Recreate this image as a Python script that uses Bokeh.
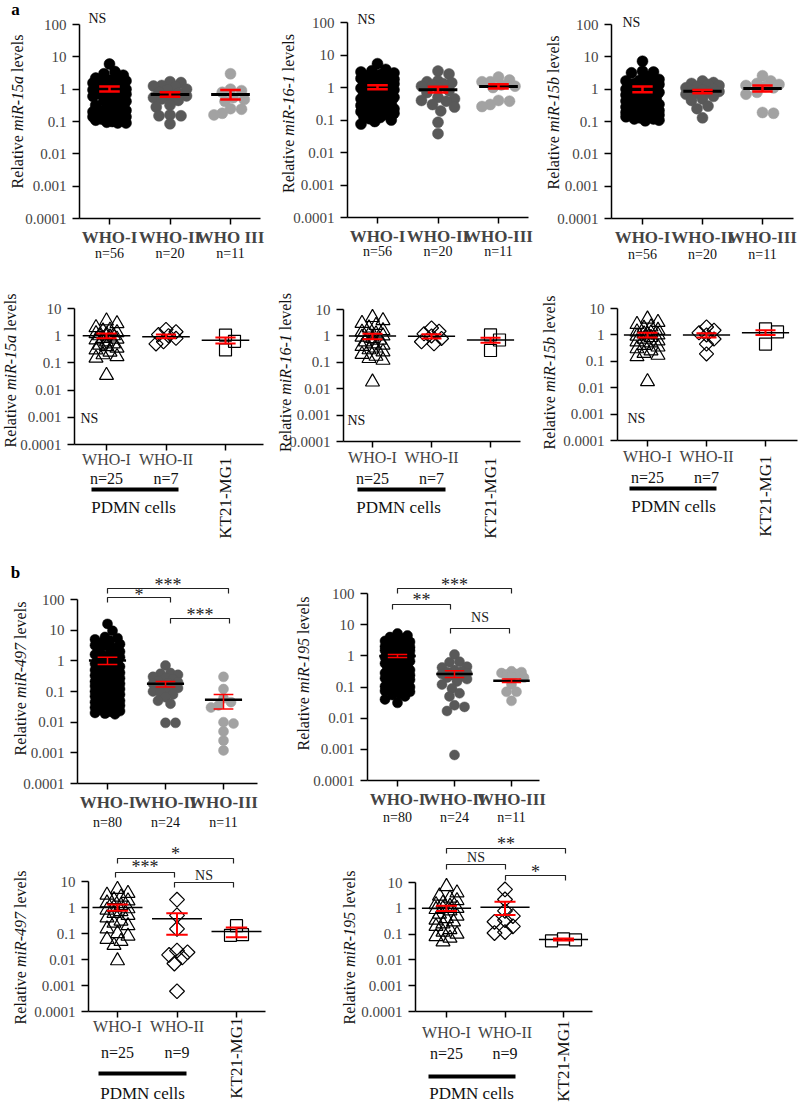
import math
from bokeh.plotting import figure
from bokeh.models import Range1d, FixedTicker, Label
from bokeh.layouts import row, column
from bokeh.embed import file_html
from bokeh.resources import INLINE

FONT = "Liberation Serif"

# ---------------- categories / tick labels ----------------
tissue_cats = ["WHO-I", "WHO-II", "WHO-III"]
tissue_cats_a1 = ["WHO-I", "WHO-II", "WHO III"]
cell_cats = ["WHO-I", "WHO-II", ""]
cell_line_name = "KT21-MG1"
cell_bar_name = "PDMN cells"
n_tissue_a = ["n=56", "n=20", "n=11"]
n_tissue_b = ["n=80", "n=24", "n=11"]
n_cells_a = ["n=25", "n=7", ""]
n_cells_b = ["n=25", "n=9", ""]
y_ticks = [0.0001, 0.001, 0.01, 0.1, 1, 10, 100]
y_tick_labels = ["0.0001", "0.001", "0.01", "0.1", "1", "10", "100"]

# ---------------- a: tissue ----------------
t15a_who1 = [6.0, 3.5, 3.0, 2.7, 2.2, 2.0, 2.0, 1.9, 1.8, 1.6, 1.55, 1.5, 1.45, 1.4, 1.3, 1.25, 1.2, 1.1, 1.05,
             1.0, 1.0, 0.95, 0.9, 0.8, 0.75, 0.72, 0.7, 0.65, 0.6, 0.5, 0.45, 0.42, 0.4, 0.32, 0.3, 0.28, 0.26,
             0.22, 0.21, 0.2, 0.19, 0.18, 0.17, 0.15, 0.15, 0.14, 0.14, 0.13, 0.13, 0.12, 0.12, 0.11, 0.1, 0.095,
             0.09, 0.09]
t15a_who2 = [1.7, 1.6, 1.3, 1.25, 1.2, 1.0, 0.95, 0.8, 0.75, 0.62, 0.6, 0.55, 0.5, 0.45, 0.32, 0.28, 0.16, 0.15,
             0.15, 0.085]
t15a_who3 = [3.0, 1.0, 0.9, 0.8, 0.55, 0.48, 0.42, 0.25, 0.24, 0.18, 0.16]
t15a_mean = [1.0, 0.68, 0.68]
t15a_hi = [1.2, 0.8, 0.95]
t15a_lo = [0.85, 0.58, 0.48]

t161_who1 = [5.4, 3.6, 3.3, 3.0, 2.8, 2.5, 2.3, 2.1, 2.0, 1.9, 1.8, 1.7, 1.6, 1.5, 1.4, 1.35, 1.3, 1.2, 1.15, 1.1,
             1.0, 0.95, 0.9, 0.85, 0.8, 0.75, 0.7, 0.65, 0.6, 0.55, 0.5, 0.48, 0.45, 0.42, 0.4, 0.37, 0.34, 0.31,
             0.28, 0.26, 0.24, 0.22, 0.2, 0.19, 0.18, 0.18, 0.17, 0.16, 0.15, 0.14, 0.13, 0.12, 0.11, 0.1, 0.09,
             0.075]
t161_who2 = [3.2, 2.6, 1.6, 1.5, 1.4, 1.3, 1.2, 1.1, 1.0, 0.8, 0.7, 0.5, 0.45, 0.4, 0.38, 0.3, 0.25, 0.19, 0.085,
             0.038]
t161_who3 = [2.1, 1.7, 1.5, 1.5, 1.2, 1.1, 1.0, 0.4, 0.38, 0.3, 0.26]
t161_mean = [1.02, 0.86, 1.08]
t161_hi = [1.18, 1.05, 1.25]
t161_lo = [0.88, 0.7, 0.93]

t15b_who1 = [7.3, 3.6, 3.4, 3.2, 2.4, 2.0, 1.9, 1.8, 1.7, 1.6, 1.5, 1.4, 1.35, 1.3, 1.2, 1.15, 1.1, 1.05, 1.0,
             0.95, 0.9, 0.85, 0.8, 0.75, 0.7, 0.66, 0.62, 0.58, 0.54, 0.5, 0.46, 0.43, 0.4, 0.37, 0.34, 0.32, 0.3,
             0.28, 0.26, 0.24, 0.22, 0.21, 0.2, 0.19, 0.18, 0.17, 0.17, 0.16, 0.16, 0.15, 0.14, 0.13, 0.12, 0.12,
             0.11, 0.105]
t15b_who2 = [1.8, 1.6, 1.5, 1.4, 1.3, 1.2, 1.1, 1.0, 0.95, 0.9, 0.85, 0.8, 0.75, 0.7, 0.6, 0.5, 0.45, 0.3, 0.25,
             0.13]
t15b_who3 = [2.6, 1.8, 1.5, 1.4, 1.3, 1.2, 1.1, 0.8, 0.7, 0.19, 0.18]
t15b_mean = [0.98, 0.86, 1.05]
t15b_hi = [1.2, 0.95, 1.3]
t15b_lo = [0.8, 0.75, 0.85]

# ---------------- a: cells ----------------
c15a_who1 = [3.5, 2.8, 2.0, 1.6, 1.5, 1.3, 1.2, 1.1, 1.0, 1.0, 0.9, 0.8, 0.75, 0.7, 0.6, 0.5, 0.45, 0.4, 0.35,
             0.3, 0.25, 0.2, 0.17, 0.15, 0.035]
c15a_who2 = [1.7, 1.4, 1.1, 1.0, 0.8, 0.6, 0.5]
c15a_kt21 = [1.05, 0.62, 0.3]
c15a_mean = [1.0, 0.92, 0.68]
c15a_hi = [1.2, 1.1, 0.85]
c15a_lo = [0.8, 0.8, 0.52]

c161_who1 = [5.0, 3.8, 3.0, 2.5, 2.0, 1.6, 1.4, 1.2, 1.1, 1.0, 0.9, 0.8, 0.7, 0.6, 0.5, 0.45, 0.4, 0.35, 0.3,
             0.25, 0.2, 0.17, 0.14, 0.12, 0.018]
c161_who2 = [2.0, 1.5, 1.2, 1.0, 0.8, 0.6, 0.5]
c161_kt21 = [1.1, 0.7, 0.28]
c161_mean = [1.0, 0.97, 0.7]
c161_hi = [1.2, 1.15, 0.85]
c161_lo = [0.75, 0.8, 0.55]

c15b_who1 = [4.0, 3.0, 2.5, 2.0, 1.8, 1.5, 1.3, 1.2, 1.1, 1.0, 1.0, 0.9, 0.8, 0.7, 0.6, 0.55, 0.5, 0.4, 0.35,
             0.3, 0.25, 0.2, 0.17, 0.15, 0.017]
c15b_who2 = [2.0, 1.5, 1.2, 1.0, 0.7, 0.45, 0.19]
c15b_kt21 = [1.7, 1.3, 0.45]
c15b_mean = [1.0, 1.0, 1.2]
c15b_hi = [1.2, 1.15, 1.5]
c15b_lo = [0.8, 0.8, 1.0]

# ---------------- b: tissue ----------------
t497_who1 = [16, 9.5, 6.0, 5.5, 5.0, 4.5, 4.0, 3.5, 3.2, 3.0, 2.6, 2.3, 2.0, 1.8, 1.6, 1.5, 1.4, 1.3, 1.2, 1.1,
             1.0, 0.95, 0.9, 0.85, 0.8, 0.75, 0.7, 0.65, 0.6, 0.55, 0.5, 0.47, 0.44, 0.41, 0.38, 0.35, 0.33,
             0.31, 0.29, 0.27, 0.25, 0.23, 0.21, 0.2, 0.19, 0.18, 0.17, 0.16, 0.15, 0.14, 0.13, 0.12, 0.11, 0.1,
             0.095, 0.09, 0.085, 0.08, 0.075, 0.07, 0.065, 0.06, 0.055, 0.05, 0.048, 0.045, 0.042, 0.04, 0.038,
             0.035, 0.033, 0.03, 0.028, 0.026, 0.025, 0.023, 0.022, 0.02, 0.019, 0.018]
t497_who2 = [0.7, 0.4, 0.38, 0.35, 0.3, 0.28, 0.25, 0.22, 0.2, 0.19, 0.18, 0.16, 0.15, 0.14, 0.13, 0.12, 0.1,
             0.09, 0.08, 0.065, 0.05, 0.04, 0.0095, 0.0095]
t497_who3 = [0.3, 0.12, 0.06, 0.045, 0.035, 0.03, 0.01, 0.009, 0.005, 0.0025, 0.0012]
t497_mean = [1.02, 0.18, 0.054]
t497_hi = [1.3, 0.21, 0.08]
t497_lo = [0.76, 0.14, 0.027]

t195_who1 = [5.2, 4.5, 4.0, 3.6, 3.3, 3.0, 2.8, 2.6, 2.4, 2.2, 2.1, 2.0, 1.9, 1.8, 1.7, 1.6, 1.55, 1.5, 1.45,
             1.4, 1.35, 1.3, 1.25, 1.2, 1.15, 1.1, 1.05, 1.0, 1.0, 0.95, 0.9, 0.88, 0.85, 0.82, 0.8, 0.77, 0.74,
             0.7, 0.67, 0.64, 0.6, 0.57, 0.54, 0.5, 0.47, 0.44, 0.41, 0.38, 0.35, 0.32, 0.3, 0.28, 0.26, 0.24,
             0.22, 0.21, 0.2, 0.19, 0.18, 0.17, 0.16, 0.15, 0.14, 0.13, 0.12, 0.115, 0.11, 0.105, 0.1, 0.095,
             0.09, 0.085, 0.08, 0.075, 0.07, 0.06, 0.055, 0.05, 0.04, 0.031]
t195_who2 = [1.1, 0.65, 0.62, 0.45, 0.42, 0.35, 0.32, 0.3, 0.28, 0.26, 0.25, 0.24, 0.22, 0.2, 0.18, 0.15, 0.12,
             0.09, 0.063, 0.05, 0.026, 0.023, 0.017, 0.00066]
t195_who3 = [0.32, 0.3, 0.28, 0.26, 0.25, 0.22, 0.2, 0.12, 0.07, 0.07, 0.036]
t195_mean = [0.98, 0.26, 0.16]
t195_hi = [1.1, 0.33, 0.18]
t195_lo = [0.88, 0.2, 0.14]

# ---------------- b: cells ----------------
c497_who1 = [5.0, 3.5, 3.0, 2.5, 2.0, 1.8, 1.5, 1.2, 1.0, 0.9, 0.8, 0.7, 0.6, 0.5, 0.4, 0.3, 0.25, 0.2, 0.15,
             0.1, 0.08, 0.06, 0.05, 0.035, 0.009]
c497_who2 = [2.0, 0.5, 0.15, 0.022, 0.019, 0.015, 0.012, 0.007, 0.0006]
c497_kt21 = [0.2, 0.09, 0.085]
c497_mean = [1.0, 0.37, 0.12]
c497_hi = [1.3, 0.6, 0.17]
c497_lo = [0.75, 0.09, 0.072]

c195_who1 = [7.0, 4.0, 3.0, 2.5, 2.0, 1.6, 1.4, 1.2, 1.0, 1.0, 0.9, 0.8, 0.6, 0.5, 0.4, 0.35, 0.3, 0.25, 0.2,
             0.15, 0.12, 0.1, 0.08, 0.07, 0.05]
c195_who2 = [5.4, 2.2, 0.8, 0.5, 0.35, 0.3, 0.2, 0.12, 0.11]
c195_kt21 = [0.065, 0.055, 0.06]
c195_mean = [1.0, 1.1, 0.062]
c195_hi = [1.25, 1.8, 0.068]
c195_lo = [0.78, 0.55, 0.056]

# significance labels (left group, right group, label)
sig_497_t = [(0, 2, "***"), (0, 1, "*"), (1, 2, "***")]
sig_195_t = [(0, 2, "***"), (0, 1, "**"), (1, 2, "NS")]
sig_497_c = [(0, 2, "*"), (0, 1, "***"), (1, 2, "NS")]
sig_195_c = [(0, 2, "**"), (0, 1, "NS"), (1, 2, "*")]

# ---------------- styles ----------------
BLACK, DARK, LIGHT, RED = "#000000", "#595959", "#a2a2a2", "#ff0000"
POS = [0.5, 1.5, 2.5]

ST_TA = dict(markers=["circle"] * 3, sizes=[11, 11, 11], angles=[0, 0, 0], fills=[BLACK, DARK, LIGHT],
             lines=[BLACK, DARK, LIGHT], mlw=0.5, mean_half=0.32, mean_lw=3, sem_half=0.17, sem_lw=2.5,
             cat_size="17px", cat_style="bold", n_size="14px", half=17)
ST_TB = dict(ST_TA, sizes=[10, 10, 10], mean_lw=2.5, sem_lw=1.5, half=14)
ST_CA = dict(markers=["triangle", "square", "square"], sizes=[14, 10, 12], angles=[0, math.pi / 4, 0],
             fills=[None] * 3, lines=[BLACK] * 3, mlw=1.2, mean_half=0.4, mean_lw=1.5, sem_half=0.17,
             sem_lw=2, cat_size="16px", cat_style="normal", n_size="16px", half=12)
ST_CB = dict(ST_CA, sizes=[14, 10.5, 12], mean_half=0.42, sem_half=0.18, half=12)

CW_R = {"R": .667, "e": .444, "l": .278, "a": .444, "t": .278, "i": .278, "v": .5, "s": .389}
CW_I = {"m": .722, "i": .278, "R": .611, "-": .333}


def tw(text, table, size):
    return sum(table.get(ch, 0.5) for ch in text) * size


def swarm(vals, center, px_x, dec, diam, half):
    order = sorted(range(len(vals)), key=lambda i: -vals[i])
    step, dmin = diam * 0.25, diam * 0.8
    cands = [0.0]
    k = 1
    while k * step <= half:
        cands += [k * step, -k * step]
        k += 1
    placed, xs = [], [center] * len(vals)
    for i in order:
        yy = math.log10(vals[i]) * dec
        chosen, best, bestd = None, 0.0, -1.0
        for c in cands:
            d = min((math.hypot(c - px, yy - py) for px, py in placed), default=1e9)
            if d >= dmin:
                chosen = c
                break
            if d > bestd:
                bestd, best = d, c
        if chosen is None:
            chosen = best
        placed.append((chosen, yy))
        xs[i] = center + chosen / px_x
    return xs


def panel(gm, st, series, mean, hi, lo, cats, nlab, mir, sig=(), cells=False, letter=None):
    fx0, fx1 = gm["fig_x"]
    fy0, fy1 = gm["row_y"]
    t1, s = gm["t1"], gm["s"]
    yb, ytp, top = gm["yb"], gm["ytp"], gm["top"]
    dec = (yb - ytp) / (math.log10(top) + 4)

    def X(px):
        return 0.5 + (px - t1) / s

    def Y(py):
        return 10 ** (-4 + (yb - py) / dec)

    p = figure(width=fx1 - fx0, height=fy1 - fy0, x_range=Range1d(X(fx0), X(fx1)),
               y_range=Range1d(Y(fy1), Y(fy0)), y_axis_type="log", output_backend="svg",
               toolbar_location=None, title=None, min_border=0, min_border_left=0, min_border_right=0,
               min_border_top=0, min_border_bottom=0)
    p.xgrid.visible = False
    p.ygrid.visible = False
    p.outline_line_color = None
    p.background_fill_color = "white"
    p.border_fill_color = "white"

    def txt(text, x, y, size, align="center", baseline="middle", style="normal", angle=0.0, color="black"):
        p.add_layout(Label(x=x, y=y, text=text, text_font=FONT, text_font_size=size, text_font_style=style,
                           text_align=align, text_baseline=baseline, angle=angle, text_color=color))

    # y axis (drawn at the left end of the category axis)
    ya = p.yaxis[0]
    ya.fixed_location = X(gm["ax"])
    ya.ticker = FixedTicker(ticks=[t for t in y_ticks if t <= top])
    ya.major_label_overrides = {t: lab for t, lab in zip(y_ticks, y_tick_labels) if t <= top}
    ya.bounds = (0.0001, top)
    ya.major_label_text_font = FONT
    ya.major_label_text_font_size = "15px"
    ya.major_label_standoff = 6
    ya.major_tick_out = 7
    ya.major_tick_in = 0
    ya.minor_tick_line_color = None
    ya.axis_line_width = 1.5
    ya.major_tick_line_width = 1.5

    # x axis at the 0.0001 level
    xa = p.xaxis[0]
    xa.fixed_location = 0.0001
    xa.bounds = (X(gm["ax"]), X(gm["right"]))
    xa.ticker = FixedTicker(ticks=POS)
    xa.major_label_overrides = dict(zip(POS, cats))
    xa.major_label_text_font = FONT
    xa.major_label_text_font_size = st["cat_size"]
    xa.major_label_text_font_style = st["cat_style"]
    xa.major_label_standoff = gm["cat_so"]
    xa.major_tick_out = 6
    xa.major_tick_in = 0
    xa.minor_tick_line_color = None
    xa.axis_line_width = 1.5
    xa.major_tick_line_width = 1.5

    # y axis title: "Relative <italic miR> levels", rotated
    xc, yc = gm["ylab"]
    parts = [("Relative", CW_R, "normal"), (mir, CW_I, "italic"), ("levels", CW_R, "normal")]
    widths = [tw(t, tab, 16) for t, tab, _ in parts]
    gap = 0.25 * 16
    ystart = yc + (sum(widths) + 2 * gap) / 2
    for (t, tab, sty), w in zip(parts, widths):
        txt(t, X(xc), Y(ystart), "16px", align="left", style=sty, angle=math.pi / 2, color="#111111")
        ystart -= w + gap

    # group sizes under the categories
    for c, t in zip(POS, nlab):
        if t:
            txt(t, c, Y(gm["ny"]), st["n_size"], color="#111111")

    if cells:
        b0, b1, by = gm["bar"]
        p.segment(x0=[X(b0)], x1=[X(b1)], y0=[Y(by)], y1=[Y(by)], line_color="black", line_width=4)
        txt(cell_bar_name, X(gm["pdmn"][0]), Y(gm["pdmn"][1]), "17px", color="#111111")
        txt(cell_line_name, POS[2], Y(gm["kt"]), "17px", align="right", angle=math.pi / 2, color="#111111")

    # data points
    for gi, vals in enumerate(series):
        xs = swarm(vals, POS[gi], s, dec, st["sizes"][gi], st["half"])
        p.scatter(x=xs, y=vals, marker=st["markers"][gi], size=st["sizes"][gi], angle=st["angles"][gi],
                  fill_color=st["fills"][gi], line_color=st["lines"][gi], line_width=st["mlw"])

    # mean and SEM
    mh, sh = st["mean_half"], st["sem_half"]
    p.segment(x0=[c - mh for c in POS], x1=[c + mh for c in POS], y0=mean, y1=mean,
              line_color="black", line_width=st["mean_lw"])
    p.segment(x0=[c - sh for c in POS] * 2, x1=[c + sh for c in POS] * 2, y0=hi + lo, y1=hi + lo,
              line_color=RED, line_width=st["sem_lw"])
    p.segment(x0=POS, x1=POS, y0=hi, y1=lo, line_color=RED, line_width=st["sem_lw"])

    # significance brackets
    for (ga, gb, lab), (x0p, x1p, ylp, ytp_) in zip(sig, gm.get("br", [])):
        xa_, xb_ = X(x0p), X(x1p)
        p.multi_line(xs=[[xa_, xa_, xb_, xb_]], ys=[[Y(ylp + 5), Y(ylp), Y(ylp), Y(ylp + 5)]],
                     line_color="#222222", line_width=1.2)
        if lab == "NS":
            txt(lab, (xa_ + xb_) / 2, Y(ytp_), "14px", color="#222222")
        else:
            txt(lab, (xa_ + xb_) / 2, Y(ytp_ + 3), "18px", color="#222222")

    if "ns" in gm:
        txt("NS", X(gm["ns"][0]), Y(gm["ns"][1]), "14px", align="left", color="#111111")
    if letter is not None:
        txt(letter, X(15), Y(gm["letter_y"]), "17px", style="bold")
    return p


R1, R2, R3, R4 = (0, 290), (290, 560), (560, 834), (834, 1106)
G = dict(
    a1=dict(fig_x=(0, 268), row_y=R1, ax=79, t1=109, s=60.5, right=260, ytp=24, top=100, yb=218,
            ylab=(17, 111), cat_so=3, ny=253, ns=(88, 18), letter_y=9),
    a2=dict(fig_x=(268, 535), row_y=R1, ax=347, t1=377, s=60.5, right=528, ytp=22, top=100, yb=217,
            ylab=(288, 113), cat_so=3, ny=251, ns=(357, 19)),
    a3=dict(fig_x=(535, 800), row_y=R1, ax=611, t1=642, s=60, right=793, ytp=24, top=100, yb=218,
            ylab=(553, 112), cat_so=3, ny=254, ns=(622, 22)),
    c1=dict(fig_x=(0, 270), row_y=R2, ax=74, t1=106, s=59.5, right=263, ytp=308, top=10, yb=444,
            ylab=(10, 370), cat_so=0, ny=478, bar=(91, 178, 489), pdmn=(133, 507), kt=457, ns=(80, 418)),
    c2=dict(fig_x=(270, 530), row_y=R2, ax=343, t1=372, s=59, right=520, ytp=309, top=10, yb=441,
            ylab=(285, 372), cat_so=1, ny=478, bar=(357, 445, 489), pdmn=(398, 507), kt=457, ns=(347, 420)),
    c3=dict(fig_x=(530, 800), row_y=R2, ax=617, t1=647, s=59, right=797, ytp=308, top=10, yb=440,
            ylab=(549, 372), cat_so=1, ny=477, bar=(629, 716, 488), pdmn=(673, 506), kt=455, ns=(627, 418)),
    b1=dict(fig_x=(0, 290), row_y=R3, ax=77, t1=107, s=58, right=257, ytp=599, top=100, yb=783,
            ylab=(20, 678), cat_so=3, ny=822, letter_y=572,
            br=[(107, 228, 588, 581), (107, 170, 597, 591), (170, 229, 618, 611)]),
    b2=dict(fig_x=(290, 560), row_y=R3, ax=367, t1=397, s=57, right=539, ytp=593, top=100, yb=780,
            ylab=(303, 673), cat_so=3, ny=817,
            br=[(397, 511, 588, 581), (392, 450, 604, 596), (450, 509, 628, 617)]),
    b3=dict(fig_x=(0, 300), row_y=R4, ax=88, t1=117, s=59.5, right=265, ytp=881, top=10, yb=1011,
            ylab=(20, 947), cat_so=0, ny=1052, bar=(98, 186, 1073), pdmn=(142, 1093), kt=1017,
            br=[(117, 233, 858, 850), (115, 174, 872, 863), (174, 233, 882, 875)]),
    b4=dict(fig_x=(300, 620), row_y=R4, ax=415, t1=446, s=58.5, right=592, ytp=882, top=10, yb=1011,
            ylab=(349, 947), cat_so=6, ny=1053, bar=(428, 515, 1076), pdmn=(471, 1093), kt=1020,
            br=[(446, 565, 848, 840), (446, 505, 864, 857), (505, 565, 875, 868)]),
)

pa1 = panel(G["a1"], ST_TA, [t15a_who1, t15a_who2, t15a_who3], t15a_mean, t15a_hi, t15a_lo, tissue_cats_a1,
            n_tissue_a, "miR-15a", letter="a")
pa2 = panel(G["a2"], ST_TA, [t161_who1, t161_who2, t161_who3], t161_mean, t161_hi, t161_lo, tissue_cats,
            n_tissue_a, "miR-16-1")
pa3 = panel(G["a3"], ST_TA, [t15b_who1, t15b_who2, t15b_who3], t15b_mean, t15b_hi, t15b_lo, tissue_cats,
            n_tissue_a, "miR-15b")
pc1 = panel(G["c1"], ST_CA, [c15a_who1, c15a_who2, c15a_kt21], c15a_mean, c15a_hi, c15a_lo, cell_cats,
            n_cells_a, "miR-15a", cells=True)
pc2 = panel(G["c2"], ST_CA, [c161_who1, c161_who2, c161_kt21], c161_mean, c161_hi, c161_lo, cell_cats,
            n_cells_a, "miR-16-1", cells=True)
pc3 = panel(G["c3"], ST_CA, [c15b_who1, c15b_who2, c15b_kt21], c15b_mean, c15b_hi, c15b_lo, cell_cats,
            n_cells_a, "miR-15b", cells=True)
pb1 = panel(G["b1"], ST_TB, [t497_who1, t497_who2, t497_who3], t497_mean, t497_hi, t497_lo, tissue_cats,
            n_tissue_b, "miR-497", sig=sig_497_t, letter="b")
pb2 = panel(G["b2"], ST_TB, [t195_who1, t195_who2, t195_who3], t195_mean, t195_hi, t195_lo, tissue_cats,
            n_tissue_b, "miR-195", sig=sig_195_t)
pb3 = panel(G["b3"], ST_CB, [c497_who1, c497_who2, c497_kt21], c497_mean, c497_hi, c497_lo, cell_cats,
            n_cells_b, "miR-497", sig=sig_497_c, cells=True)
pb4 = panel(G["b4"], ST_CB, [c195_who1, c195_who2, c195_kt21], c195_mean, c195_hi, c195_lo, cell_cats,
            n_cells_b, "miR-195", sig=sig_195_c, cells=True)

layout = column(row(pa1, pa2, pa3), row(pc1, pc2, pc3), row(pb1, pb2), row(pb3, pb4))
open("out.html", "w").write(file_html(layout, INLINE))
